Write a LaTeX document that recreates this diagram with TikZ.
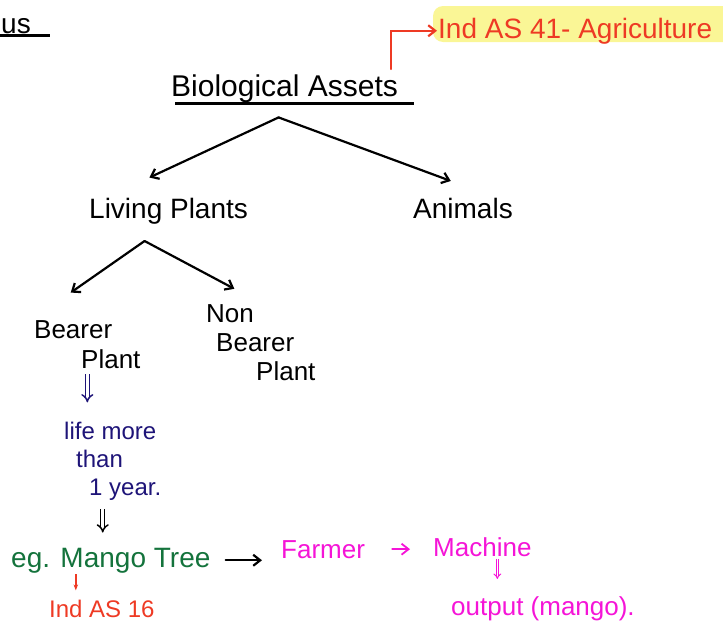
\documentclass[tikz,border=0pt]{standalone}
\usepackage{fontspec}
\setmainfont{Liberation Sans}
\usetikzlibrary{arrows.meta,positioning}
\definecolor{inkred}{RGB}{238,58,36}
\definecolor{hilite}{RGB}{250,246,150}
\definecolor{inknavy}{RGB}{30,20,120}
\definecolor{inkgreen}{RGB}{20,115,60}
\definecolor{inkpink}{RGB}{245,20,215}
\begin{document}
\begin{tikzpicture}[x=1pt,y=-1pt,
  ink/.style={anchor=base west, inner sep=1pt, align=left, font=\fontsize{28}{30}\selectfont},
  inksmall/.style={ink, font=\fontsize{24}{28}\selectfont},
  uline/.style={line width=2.2pt},
  tip/.style={-{Straight Barb[length=7pt,width=11pt]}, line width=2.2pt, line cap=round},
  dbl/.style={-{Implies}, double, double distance=2.5pt, line width=1.5pt},
]
\useasboundingbox (0,0) rectangle (723,637);
\fill[hilite, rounded corners=10pt] (433,6) rectangle (740,42);
\node[ink] (us) at (0,34) {us};
\draw[uline] (us.south west) -- ([xshift=18pt]us.south east);
\node[ink, font=\fontsize{30}{32}\selectfont] (bio) at (170,96) {Biological Assets};
\draw[uline] ([xshift=5pt]bio.south west) -- ([xshift=15pt]bio.south east);
\node[ink, text=inkred] (ind41) at (437,38) {Ind AS 41- Agriculture};
\draw[tip, inkred] ([xshift=-8pt,yshift=4pt]bio.north east) |- (ind41.west);
\node[ink] (living) at (88,218) {Living Plants};
\node[ink] (animals) at (412,218) {Animals};
\coordinate (bioapex) at ([xshift=-6pt,yshift=-14pt]bio.south);
\draw[tip, shorten >=45pt] (bioapex) -- ([xshift=-60pt]living.north);
\draw[tip, shorten >=45pt] (bioapex) -- ([xshift=30pt]animals.north);
\node[inksmall, font=\fontsize{26}{30}\selectfont] (bearer) at (33,368) {Bearer\\\hspace*{47pt}Plant};
\node[inksmall, font=\fontsize{26}{29}\selectfont] (nonbearer) at (205,380) {Non\\\hspace*{10pt}Bearer\\\hspace*{50pt}Plant};
\coordinate (livapex) at ([xshift=-24pt,yshift=-16pt]living.south);
\draw[tip, shorten >=46pt] (livapex) -- (bearer.north west);
\draw[tip, shorten >=30pt] (livapex) -- (nonbearer.north);
\node[inksmall, text=inknavy] (life) at (63,495) {life more\\\hspace*{12pt}than\\\hspace*{25pt}1 year.};
\draw[dbl, inknavy, shorten <=5pt, shorten >=18pt] (bearer.south) -- (bearer.south |- life.north);
\node[ink, text=inkgreen] (mango) at (10,567) {eg. Mango Tree};
\draw[dbl, shorten <=8pt, shorten >=14pt] ([xshift=-10pt]life.south) -- ([xshift=-10pt]life.south |- mango.north);
\node[inksmall, font=\fontsize{26}{28}\selectfont, text=inkpink] (farmer) at (280,558) {Farmer};
\node[inksmall, font=\fontsize{26}{28}\selectfont, text=inkpink] (machine) at (432,556) {Machine};
\node[inksmall, font=\fontsize{26}{28}\selectfont, text=inkpink] (output) at (450,615) {output (mango).};
\node[inksmall, text=inkred] (ind16) at (48,617) {Ind AS 16};
\draw[tip, shorten <=14pt, shorten >=18pt] (mango.east) -- (mango.east -| farmer.west);
\draw[tip, inkpink, line width=1.8pt, shorten <=26pt, shorten >=22pt] (farmer.east) -- (farmer.east -| machine.west);
\draw[dbl, inkpink, line width=1pt, double distance=1.6pt, shorten <=2pt, shorten >=16pt] ([xshift=15pt]machine.south) -- ([xshift=15pt]machine.south |- output.north);
\draw[-{Stealth[length=6pt]}, inkred, line width=1.8pt, shorten <=0pt, shorten >=8pt] ([xshift=-35pt]mango.south) -- ([xshift=-35pt]mango.south |- ind16.north);
\end{tikzpicture}
\end{document}
